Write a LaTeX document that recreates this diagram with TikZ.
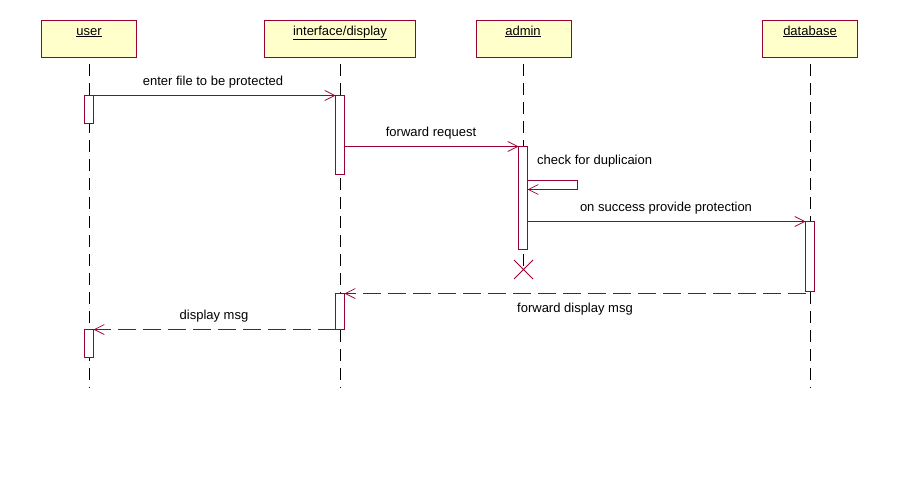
\documentclass[tikz,border=0pt]{standalone}
\usepackage{fontspec}
\setmainfont{Liberation Sans}
\usetikzlibrary{arrows.meta}
\definecolor{rose}{HTML}{990033}
\definecolor{boxfill}{HTML}{FFFFCC}
\begin{document}
\begin{tikzpicture}[x=1pt,y=-1pt,
  font=\fontsize{13}{15}\selectfont,
  head/.style={draw=rose,fill=boxfill,line width=1pt,minimum height=37pt,inner sep=0pt,anchor=north west},
  headtext/.style={anchor=base,inner sep=0pt},
  lifeline/.style={draw=black,line width=1pt,dash pattern=on 12pt off 7pt},
  act/.style={draw=rose,fill=white,line width=1pt,minimum width=9pt,inner sep=0pt,outer sep=0pt,anchor=north},
  msg/.style={draw=rose,line width=1pt,-{Straight Barb[length=10pt,width=10pt,line width=0.7pt]}},
  ret/.style={msg,dash pattern=on 18pt off 7pt},
  lbl/.style={inner sep=0pt,text=black}]
\useasboundingbox (0,0) rectangle (899,482);
% heads
\node[head,minimum width=95pt] (huser) at (41,20) {};
\node[head,minimum width=151pt] (hint) at (264,20) {};
\node[head,minimum width=95pt] (hadm) at (476,20) {};
\node[head,minimum width=95pt] (hdb) at (762,20) {};
\node[headtext] (tuser) at (89,35) {\underline{user}};
\node[headtext] (tint) at (340,35) {\underline{interface/display}};
\node[headtext] (tadm) at (523,35) {\underline{admin}};
\node[headtext] (tdb) at (810,35) {\underline{database}};
% lifelines
\coordinate (luT) at (89,64); \coordinate (luB) at (89,388);
\coordinate (liT) at (340,64); \coordinate (liB) at (340,388);
\coordinate (laT) at (523,64); \coordinate (laB) at (523,270);
\coordinate (ldT) at (810,64); \coordinate (ldB) at (810,388);
\draw[lifeline] (luT) -- (luB);
\draw[lifeline] (liT) -- (liB);
\draw[lifeline] (laT) -- (laB);
\draw[lifeline] (ldT) -- (ldB);
% activations
\node[act,minimum height=28pt] (u1) at (89,95.5) {};
\node[act,minimum height=79pt] (i1) at (340,95.5) {};
\node[act,minimum height=103pt] (a1) at (523,146.5) {};
\node[act,minimum height=70pt] (d1) at (810,221.5) {};
\node[act,minimum height=36pt] (i2) at (340,293.5) {};
\node[act,minimum height=28pt] (u2) at (89,329.5) {};
% destroy
\coordinate (x1) at (514,260); \coordinate (x2) at (533,279);
\coordinate (x3) at (533,260); \coordinate (x4) at (514,279);
\draw[rose,line width=0.8pt] (x1) -- (x2) (x3) -- (x4);
% messages
\draw[msg] (u1.north east) -- (i1.north west);
\node[lbl] (m1) at (213,82) {enter file to be protected};
\draw[msg] (i1.east |- a1.north) -- (a1.north west);
\node[lbl] (m2) at (431,133) {forward request};
\coordinate (s1) at (577,180.5); \coordinate (s2) at (577,189.5);
\draw[msg] (a1.east |- s1) -- (s1) -- (s2) -- (a1.east |- s2);
\node[lbl,anchor=west] (m3) at (537,161) {check for duplicaion};
\draw[msg] (a1.east |- d1.north) -- (d1.north west);
\node[lbl] (m4) at (666,208) {on success provide protection};
\draw[ret] (d1.west |- i2.north) -- (i2.north east);
\node[lbl] (m5) at (575,309) {forward display msg};
\draw[ret] (i2.west |- u2.north) -- (u2.north east);
\node[lbl] (m6) at (214,316) {display msg};
\end{tikzpicture}
\end{document}
